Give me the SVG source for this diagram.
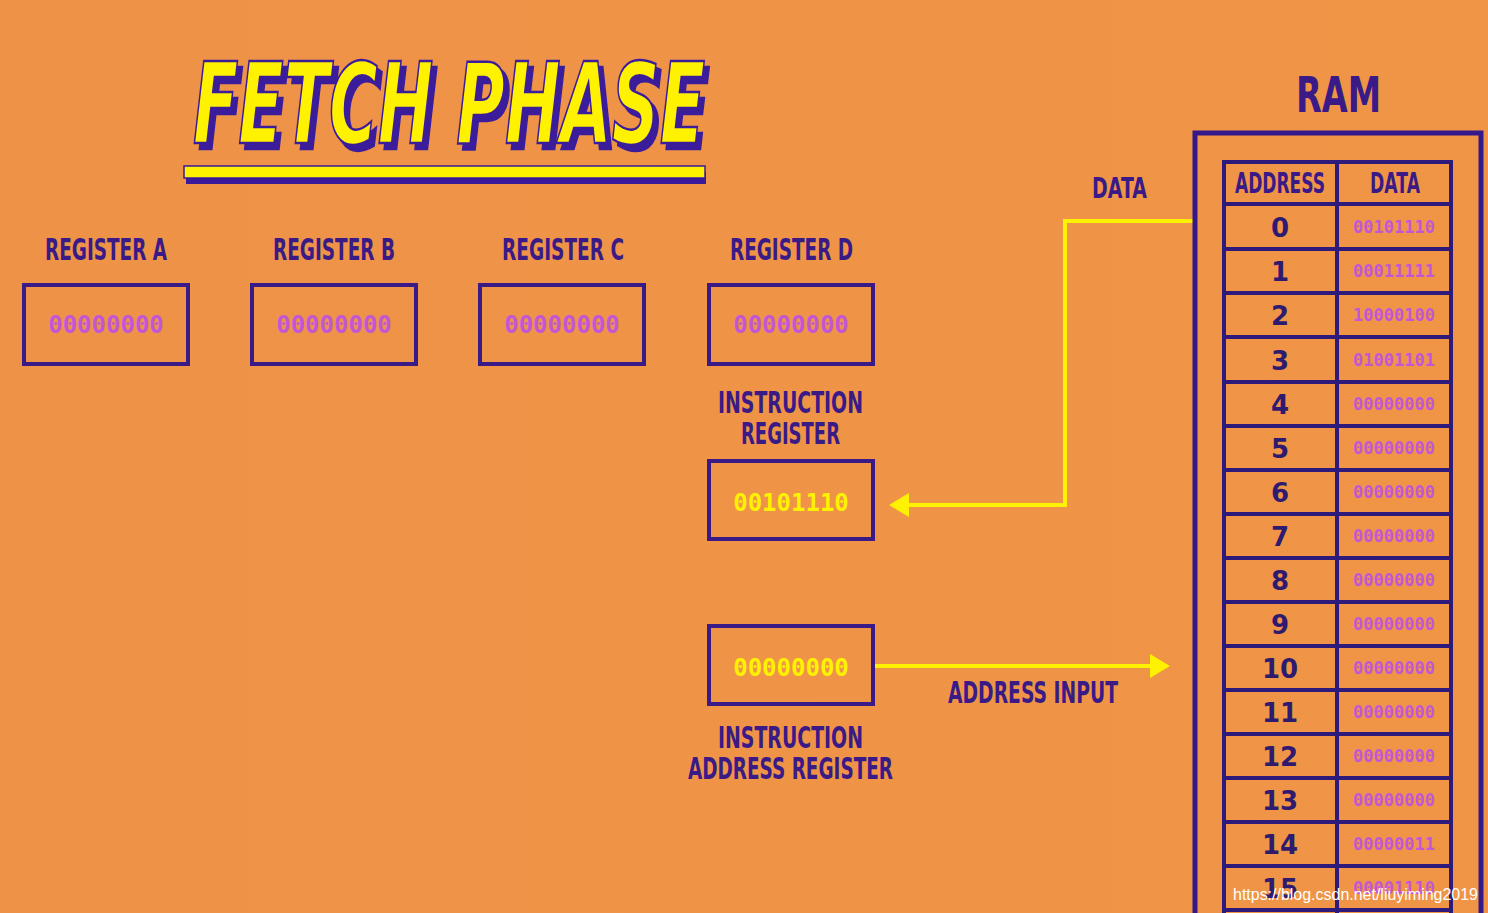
<svg xmlns="http://www.w3.org/2000/svg" width="1488" height="913" viewBox="0 0 1488 913">
<defs>
<style>
.lbl{font-family:"DejaVu Sans","Liberation Sans",sans-serif;font-weight:bold;fill:#3a1a86;}
.box{fill:none;stroke:#3a1a86;stroke-width:4;}
.val{font-family:"DejaVu Sans Mono","Liberation Mono",monospace;font-weight:bold;fill:#c257d6;text-anchor:middle;}
.yel{fill:#fff200;}
.num{font-family:"DejaVu Sans","Liberation Sans",sans-serif;font-weight:bold;fill:#2e1a6e;text-anchor:middle;font-size:26px;}
.dv{font-family:"DejaVu Sans Mono","Liberation Mono",monospace;font-weight:bold;fill:#c257d6;text-anchor:middle;font-size:17px;}
.conn{fill:none;stroke:#fff200;stroke-width:4;}
.grid{stroke:#2e1a7a;stroke-width:4;}
</style>
<marker id="ah" markerWidth="6" markerHeight="6" refX="4" refY="3" orient="auto" markerUnits="strokeWidth">
<path d="M0,0 L5,3 L0,6 Z" fill="#fff200"/>
</marker>
<filter id="shadow" x="-5%" y="-10%" width="115%" height="130%">
<feFlood flood-color="#3a1a9a" result="c"/>
<feComposite in="c" in2="SourceAlpha" operator="in" result="s"/>
<feOffset in="s" dx="5" dy="6" result="o"/>
<feMerge><feMergeNode in="o"/><feMergeNode in="SourceGraphic"/></feMerge>
</filter>
<linearGradient id="bg" x1="0" y1="0" x2="1" y2="0">
<stop offset="0" stop-color="#ee9248"/>
<stop offset="1" stop-color="#f09546"/>
</linearGradient>
</defs>
<rect width="1488" height="913" fill="url(#bg)"/>

<g id="title">
<text x="193" y="143" font-family="DejaVu Sans,Liberation Sans,sans-serif" font-weight="bold" font-style="italic" font-size="112" fill="#fff200" stroke="#3a1a9a" stroke-width="2.5" textLength="512" lengthAdjust="spacingAndGlyphs" filter="url(#shadow)">FETCH PHASE</text>
<rect x="186" y="172" width="520" height="12" fill="#3a1a9a"/>
<rect x="184" y="166" width="521" height="12" fill="#fff200" stroke="#3a1a9a" stroke-width="1.5"/>
</g>

<g id="regA">
<text class="lbl" x="45" y="260" font-size="30" textLength="122" lengthAdjust="spacingAndGlyphs">REGISTER A</text>
<rect class="box" x="24" y="285" width="164" height="79"/>
<text class="val" x="106" y="333" font-size="24">00000000</text>
</g>
<g id="regB">
<text class="lbl" x="273" y="260" font-size="30" textLength="122" lengthAdjust="spacingAndGlyphs">REGISTER B</text>
<rect class="box" x="252" y="285" width="164" height="79"/>
<text class="val" x="334" y="333" font-size="24">00000000</text>
</g>
<g id="regC">
<text class="lbl" x="502" y="260" font-size="30" textLength="122" lengthAdjust="spacingAndGlyphs">REGISTER C</text>
<rect class="box" x="480" y="285" width="164" height="79"/>
<text class="val" x="562" y="333" font-size="24">00000000</text>
</g>
<g id="regD">
<text class="lbl" x="730" y="260" font-size="30" textLength="123" lengthAdjust="spacingAndGlyphs">REGISTER D</text>
<rect class="box" x="709" y="285" width="164" height="79"/>
<text class="val" x="791" y="333" font-size="24">00000000</text>
</g>

<g id="instrReg">
<text class="lbl" x="718" y="413" font-size="30" textLength="145" lengthAdjust="spacingAndGlyphs">INSTRUCTION</text>
<text class="lbl" x="741" y="444" font-size="30" textLength="99" lengthAdjust="spacingAndGlyphs">REGISTER</text>
<rect class="box" x="709" y="461" width="164" height="78"/>
<text class="val yel" x="791" y="511" font-size="24">00101110</text>
</g>

<g id="instrAddrReg">
<rect class="box" x="709" y="626" width="164" height="78"/>
<text class="val yel" x="791" y="676" font-size="24">00000000</text>
<text class="lbl" x="718" y="748" font-size="30" textLength="145" lengthAdjust="spacingAndGlyphs">INSTRUCTION</text>
<text class="lbl" x="688" y="779" font-size="30" textLength="205" lengthAdjust="spacingAndGlyphs">ADDRESS REGISTER</text>
</g>

<g id="connectors">
<path class="conn" d="M1193 221 H1065 V505 H893" marker-end="url(#ah)"/>
<text class="lbl" x="1092" y="198" font-size="28" textLength="55" lengthAdjust="spacingAndGlyphs">DATA</text>
<path class="conn" d="M875 666 H1166" marker-end="url(#ah)"/>
<text class="lbl" x="948" y="703" font-size="30" textLength="170" lengthAdjust="spacingAndGlyphs">ADDRESS INPUT</text>
</g>

<g id="ram">
<text class="lbl" x="1296" y="112" font-size="50" textLength="85" lengthAdjust="spacingAndGlyphs">RAM</text>
<path d="M1195 920 V133 H1481 V920" fill="none" stroke="#35198a" stroke-width="5"/>
<rect x="1224" y="162" width="227" height="760" fill="none" class="grid"/>
<line class="grid" x1="1337" y1="162" x2="1337" y2="913"/>
<g class="grid">
<line x1="1224" y1="204" x2="1451" y2="204"/>
<line x1="1224" y1="249" x2="1451" y2="249"/>
<line x1="1224" y1="293" x2="1451" y2="293"/>
<line x1="1224" y1="337" x2="1451" y2="337"/>
<line x1="1224" y1="382" x2="1451" y2="382"/>
<line x1="1224" y1="426" x2="1451" y2="426"/>
<line x1="1224" y1="470" x2="1451" y2="470"/>
<line x1="1224" y1="514" x2="1451" y2="514"/>
<line x1="1224" y1="558" x2="1451" y2="558"/>
<line x1="1224" y1="602" x2="1451" y2="602"/>
<line x1="1224" y1="646" x2="1451" y2="646"/>
<line x1="1224" y1="690" x2="1451" y2="690"/>
<line x1="1224" y1="734" x2="1451" y2="734"/>
<line x1="1224" y1="778" x2="1451" y2="778"/>
<line x1="1224" y1="822" x2="1451" y2="822"/>
<line x1="1224" y1="866" x2="1451" y2="866"/>
<line x1="1224" y1="910" x2="1451" y2="910"/>
</g>
<text class="lbl" x="1235" y="193" font-size="28" textLength="90" lengthAdjust="spacingAndGlyphs">ADDRESS</text>
<text class="lbl" x="1370" y="193" font-size="28" textLength="50" lengthAdjust="spacingAndGlyphs">DATA</text>
<text class="num yel" x="1280" y="237">0</text><text class="dv yel" x="1394" y="233">00101110</text>
<text class="num" x="1280" y="281">1</text><text class="dv" x="1394" y="277">00011111</text>
<text class="num" x="1280" y="325">2</text><text class="dv" x="1394" y="321">10000100</text>
<text class="num" x="1280" y="370">3</text><text class="dv" x="1394" y="366">01001101</text>
<text class="num" x="1280" y="414">4</text><text class="dv" x="1394" y="410">00000000</text>
<text class="num" x="1280" y="458">5</text><text class="dv" x="1394" y="454">00000000</text>
<text class="num" x="1280" y="502">6</text><text class="dv" x="1394" y="498">00000000</text>
<text class="num" x="1280" y="546">7</text><text class="dv" x="1394" y="542">00000000</text>
<text class="num" x="1280" y="590">8</text><text class="dv" x="1394" y="586">00000000</text>
<text class="num" x="1280" y="634">9</text><text class="dv" x="1394" y="630">00000000</text>
<text class="num" x="1280" y="678">10</text><text class="dv" x="1394" y="674">00000000</text>
<text class="num" x="1280" y="722">11</text><text class="dv" x="1394" y="718">00000000</text>
<text class="num" x="1280" y="766">12</text><text class="dv" x="1394" y="762">00000000</text>
<text class="num" x="1280" y="810">13</text><text class="dv" x="1394" y="806">00000000</text>
<text class="num" x="1280" y="854">14</text><text class="dv" x="1394" y="850">00000011</text>
<text class="num" x="1280" y="898">15</text><text class="dv" x="1394" y="894">00001110</text>
</g>

<g id="watermark">
<text x="1233" y="900" font-family="Liberation Sans,Arial,sans-serif" font-size="16" fill="#ffffff" textLength="245" lengthAdjust="spacingAndGlyphs">https://blog.csdn.net/liuyiming2019</text>
</g>
</svg>
